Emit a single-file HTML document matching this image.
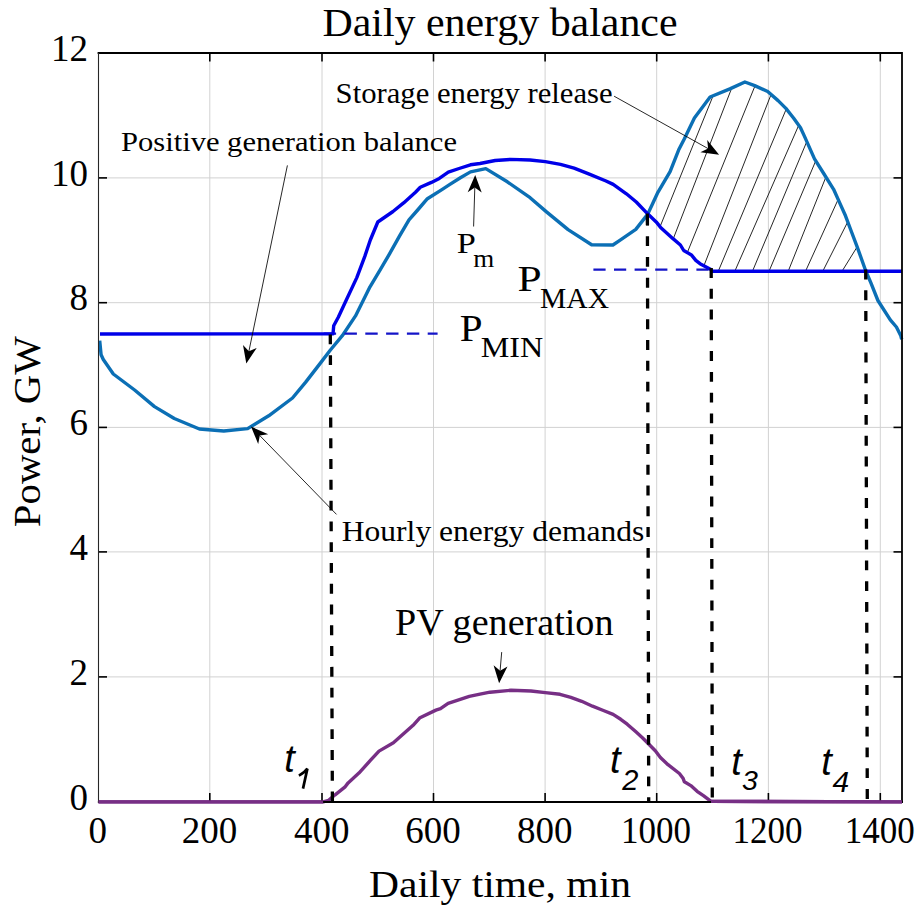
<!DOCTYPE html>
<html><head><meta charset="utf-8"><style>
html,body{margin:0;padding:0;background:#fff;}
svg{display:block;}
text{font-family:"Liberation Serif",serif;fill:#000;}
.sans{font-family:"Liberation Sans",sans-serif;font-style:italic;}
</style></head><body>
<svg width="922" height="908" viewBox="0 0 922 908">
<rect width="922" height="908" fill="#fff"/>
<g stroke="#d2d2d2" stroke-width="1"><line x1="209.8" y1="53.0" x2="209.8" y2="801.5"/><line x1="322.0" y1="53.0" x2="322.0" y2="801.5"/><line x1="433.5" y1="53.0" x2="433.5" y2="801.5"/><line x1="545.1" y1="53.0" x2="545.1" y2="801.5"/><line x1="656.7" y1="53.0" x2="656.7" y2="801.5"/><line x1="768.4" y1="53.0" x2="768.4" y2="801.5"/><line x1="880.3" y1="53.0" x2="880.3" y2="801.5"/><line x1="98.5" y1="177.9" x2="902.0" y2="177.9"/><line x1="98.5" y1="302.7" x2="902.0" y2="302.7"/><line x1="98.5" y1="427.4" x2="902.0" y2="427.4"/><line x1="98.5" y1="551.9" x2="902.0" y2="551.9"/><line x1="98.5" y1="676.9" x2="902.0" y2="676.9"/></g>
<defs><clipPath id="hc"><polygon points="647.4,214.1 647.6,214.4 652.7,203.5 657.9,192.3 670.1,171.6 678.6,150.1 684.4,138.7 694.4,117.9 710.1,97.0 729.9,88.9 744.9,82.0 754.7,85.6 767.7,91.5 778.1,100.6 785.9,108.4 793.7,118.2 800.5,127.8 804.5,136.4 814.5,158.9 823.7,173.5 833.6,189.3 839.6,202.6 845.5,215.8 850.8,230.0 856.8,245.8 865.6,270.5 865.6,271.2 712.0,271.2 710.9,269.5 700.0,263.7 695.8,260.4 691.4,254.9 683.7,250.5 680.4,245.0 672.7,238.4 660.6,227.4 656.2,221.9 647.4,213.6"/></clipPath></defs>
<g clip-path="url(#hc)" stroke="#000" stroke-width="1" opacity="0.85"><line x1="727.6" y1="60" x2="634.4" y2="290"/><line x1="742.6" y1="60" x2="653.4" y2="290"/><line x1="765.5" y1="60" x2="672.1" y2="290"/><line x1="784.6" y1="60" x2="694.4" y2="290"/><line x1="806.8" y1="60" x2="710.4" y2="290"/><line x1="827.3" y1="60" x2="726.6" y2="290"/><line x1="841.0" y1="60" x2="744.6" y2="290"/><line x1="858.4" y1="60" x2="761.1" y2="290"/><line x1="872.7" y1="60" x2="780.7" y2="290"/><line x1="901.5" y1="60" x2="797.0" y2="290"/><line x1="929.5" y1="60" x2="813.3" y2="290"/><line x1="973.0" y1="60" x2="830.4" y2="290"/></g>
<polyline points="99.7,340.7 101.1,354.8 103.3,359.5 113.3,374.0 134.6,390.0 154.5,406.6 174.3,418.5 199.4,429.0 223.8,431.0 247.6,428.6 268.7,415.8 292.5,398.0 305.7,382.1 320.0,363.6 330.4,350.0 342.3,335.7 355.5,315.9 370.0,286.8 380.0,270.2 389.1,254.6 399.6,235.9 409.0,219.8 418.1,209.5 427.4,198.7 441.9,189.6 449.9,184.4 460.4,177.8 470.5,171.9 485.8,168.6 507.3,181.8 530.1,197.7 546.8,212.1 568.1,229.6 591.6,244.8 612.9,245.0 619.8,240.4 635.8,229.4 647.6,214.4 652.7,203.5 657.9,192.3 670.1,171.6 678.6,150.1 684.4,138.7 694.4,117.9 710.1,97.0 729.9,88.9 744.9,82.0 754.7,85.6 767.7,91.5 778.1,100.6 785.9,108.4 793.7,118.2 800.5,127.8 804.5,136.4 814.5,158.9 823.7,173.5 833.6,189.3 839.6,202.6 845.5,215.8 850.8,230.0 856.8,245.8 865.6,270.5 870.9,282.9 877.9,300.5 890.3,319.9 896.4,327.0 900.8,335.8 901.7,339.3" fill="none" stroke="#0b6fb5" stroke-width="3.4" stroke-linejoin="round"/>
<polyline points="98.5,801.9 323.1,801.9 328.6,800.3 335.1,794.8 344.8,787.2 348.1,782.9 358.9,773.1 370.6,760.2 379.0,751.1 393.4,742.8 413.1,725.3 420.0,717.7 435.9,710.1 440.5,708.6 448.1,703.3 469.3,696.4 480.0,694.2 490.0,692.2 511.0,690.3 531.0,691.0 545.3,692.6 560.0,694.3 570.8,697.4 581.7,701.3 592.5,706.2 603.4,710.5 613.1,714.4 620.7,719.3 627.2,724.2 635.9,731.8 642.4,737.7 648.9,744.2 655.3,750.8 660.4,757.5 668.0,764.7 679.4,773.5 683.2,778.6 684.4,781.8 690.8,785.6 697.1,791.3 703.4,795.7 711.0,801.4 902.0,801.9" fill="none" stroke="#772f85" stroke-width="3.4" stroke-linejoin="round"/>
<line x1="323.7" y1="333.7" x2="437.6" y2="333.7" stroke="#1414c8" stroke-width="2.2" stroke-dasharray="12.4 8.4"/>
<line x1="593.4" y1="269.7" x2="711" y2="269.7" stroke="#1414c8" stroke-width="2.2" stroke-dasharray="12.2 8.4"/>
<polyline points="100.0,334.0 333.0,333.8 333.7,325.8 338.3,317.2 346.3,300.0 356.8,277.6 364.8,256.4 370.3,240.0 377.8,222.0 393.0,211.5 403.6,202.9 415.5,192.3 420.3,187.3 431.4,182.4 439.3,178.4 448.3,172.2 459.1,168.5 470.5,164.8 480.0,163.5 495.2,160.5 510.4,159.4 530.1,160.0 545.3,161.6 560.5,164.3 574.1,168.1 589.3,174.2 606.0,181.0 613.2,184.4 626.4,193.8 636.3,202.0 647.4,213.6 656.2,221.9 660.6,227.4 672.7,238.4 680.4,245.0 683.7,250.5 691.4,254.9 695.8,260.4 700.0,263.7 710.9,269.5 712.0,271.2 902.0,271.2" fill="none" stroke="#0000e8" stroke-width="3.4" stroke-linejoin="round"/>
<line x1="330.3" y1="334.4" x2="332.4" y2="801.5" stroke="#000" stroke-width="3.3" stroke-dasharray="9.9 10.88"/>
<line x1="647.4" y1="215.4" x2="648.7" y2="801.5" stroke="#000" stroke-width="3.3" stroke-dasharray="9.9 10.88"/>
<line x1="711.2" y1="268.0" x2="712.3" y2="801.5" stroke="#000" stroke-width="3.3" stroke-dasharray="9.9 10.88"/>
<line x1="865.7" y1="269.5" x2="867.3" y2="801.5" stroke="#000" stroke-width="3.3" stroke-dasharray="9.9 10.88"/>
<line x1="647.4" y1="213.6" x2="647.5" y2="225.5" stroke="#000" stroke-width="3"/>
<g stroke="#000" stroke-width="1.6"><line x1="209.8" y1="801.5" x2="209.8" y2="793.0"/><line x1="209.8" y1="53.0" x2="209.8" y2="61.5"/><line x1="322.0" y1="801.5" x2="322.0" y2="793.0"/><line x1="322.0" y1="53.0" x2="322.0" y2="61.5"/><line x1="433.5" y1="801.5" x2="433.5" y2="793.0"/><line x1="433.5" y1="53.0" x2="433.5" y2="61.5"/><line x1="545.1" y1="801.5" x2="545.1" y2="793.0"/><line x1="545.1" y1="53.0" x2="545.1" y2="61.5"/><line x1="656.7" y1="801.5" x2="656.7" y2="793.0"/><line x1="656.7" y1="53.0" x2="656.7" y2="61.5"/><line x1="768.4" y1="801.5" x2="768.4" y2="793.0"/><line x1="768.4" y1="53.0" x2="768.4" y2="61.5"/><line x1="880.3" y1="801.5" x2="880.3" y2="793.0"/><line x1="880.3" y1="53.0" x2="880.3" y2="61.5"/><line x1="98.5" y1="177.9" x2="107.0" y2="177.9"/><line x1="902.0" y1="177.9" x2="893.5" y2="177.9"/><line x1="98.5" y1="302.7" x2="107.0" y2="302.7"/><line x1="902.0" y1="302.7" x2="893.5" y2="302.7"/><line x1="98.5" y1="427.4" x2="107.0" y2="427.4"/><line x1="902.0" y1="427.4" x2="893.5" y2="427.4"/><line x1="98.5" y1="551.9" x2="107.0" y2="551.9"/><line x1="902.0" y1="551.9" x2="893.5" y2="551.9"/><line x1="98.5" y1="676.9" x2="107.0" y2="676.9"/><line x1="902.0" y1="676.9" x2="893.5" y2="676.9"/></g>
<path d="M97.6,53 H902 V802.9" fill="none" stroke="#000" stroke-width="1.8"/>
<path d="M903,802 H97.9" fill="none" stroke="#000" stroke-width="1.8"/>
<path d="M98.5,53 V802.9" fill="none" stroke="#262626" stroke-width="1.1"/>
<polyline points="98.5,801.9 323.1,801.9" fill="none" stroke="#772f85" stroke-width="3.4"/>
<polyline points="711.0,801.4 902.0,801.9" fill="none" stroke="#772f85" stroke-width="3.4"/>
<text x="97.8" y="843.4" font-size="37" text-anchor="middle" fill="#262626">0</text><text x="209.4" y="843.4" font-size="37" text-anchor="middle" fill="#262626">200</text><text x="321.8" y="843.4" font-size="37" text-anchor="middle" fill="#262626">400</text><text x="433.0" y="843.4" font-size="37" text-anchor="middle" fill="#262626">600</text><text x="544.8" y="843.4" font-size="37" text-anchor="middle" fill="#262626">800</text><text x="655.9" y="843.4" font-size="37" text-anchor="middle" fill="#262626" textLength="70" lengthAdjust="spacingAndGlyphs">1000</text><text x="767.5" y="843.4" font-size="37" text-anchor="middle" fill="#262626" textLength="70" lengthAdjust="spacingAndGlyphs">1200</text><text x="879.7" y="843.4" font-size="37" text-anchor="middle" fill="#262626" textLength="70" lengthAdjust="spacingAndGlyphs">1400</text><text x="88" y="809.6" font-size="37" text-anchor="end" fill="#262626">0</text><text x="88" y="684.5" font-size="37" text-anchor="end" fill="#262626">2</text><text x="88" y="559.5" font-size="37" text-anchor="end" fill="#262626">4</text><text x="88" y="435.0" font-size="37" text-anchor="end" fill="#262626">6</text><text x="88" y="310.3" font-size="37" text-anchor="end" fill="#262626">8</text><text x="88" y="185.5" font-size="37" text-anchor="end" fill="#262626">10</text><text x="88" y="60.6" font-size="37" text-anchor="end" fill="#262626">12</text>
<text x="500" y="36.4" font-size="40.5" text-anchor="middle" textLength="355" lengthAdjust="spacingAndGlyphs">Daily energy balance</text>
<text x="500" y="897.2" font-size="37" text-anchor="middle" fill="#262626" textLength="262" lengthAdjust="spacingAndGlyphs">Daily time, min</text>
<text transform="translate(39.9,431.7) rotate(-90)" x="0" y="0" font-size="37" text-anchor="middle" fill="#262626" textLength="191" lengthAdjust="spacingAndGlyphs">Power, GW</text>
<text x="121" y="151.2" font-size="26.6" textLength="336" lengthAdjust="spacingAndGlyphs">Positive generation balance</text>
<text x="335.6" y="102.5" font-size="28.5" textLength="277" lengthAdjust="spacingAndGlyphs">Storage energy release</text>
<text x="341.8" y="541.2" font-size="29" textLength="302.5" lengthAdjust="spacingAndGlyphs">Hourly energy demands</text>
<text x="395" y="635.1" font-size="37" textLength="218.5" lengthAdjust="spacingAndGlyphs">PV generation</text>
<text x="456.8" y="253.4" font-size="29.5" textLength="19.1" lengthAdjust="spacingAndGlyphs">P</text><text x="473.3" y="266.9" font-size="25.5" textLength="21" lengthAdjust="spacingAndGlyphs">m</text>
<text x="517.6" y="291.0" font-size="35.5" textLength="24.1" lengthAdjust="spacingAndGlyphs">P</text><text x="540" y="307.9" font-size="29.5" textLength="69" lengthAdjust="spacingAndGlyphs">MAX</text>
<text x="459.8" y="341.0" font-size="37" textLength="22.8" lengthAdjust="spacingAndGlyphs">P</text><text x="480.8" y="356.9" font-size="28.6" textLength="62.5" lengthAdjust="spacingAndGlyphs">MIN</text>
<text class="sans" x="284.2" y="772.1" font-size="38">t</text>
<text class="sans" x="610.1" y="773.3" font-size="38">t</text>
<text class="sans" x="731.3" y="775.2" font-size="38">t</text>
<text class="sans" x="821.3" y="775.2" font-size="38">t</text>
<path d="M298.9,775.6 C302.5,773.8 305.5,771.5 307.4,768.6 L303.0,788.6" fill="none" stroke="#000" stroke-width="2.7" stroke-linejoin="miter"/>
<text class="sans" x="622.3" y="790.0" font-size="29">2</text>
<text class="sans" x="742.0" y="790.3" font-size="28.5">3</text>
<text class="sans" x="832.4" y="791.8" font-size="30">4</text>
<line x1="287.4" y1="165.4" x2="248.9" y2="351.3" stroke="#000" stroke-width="0.85"/><polygon points="246.3,363.6 243.0,345.0 248.9,351.3 256.7,347.9" fill="#000"/>
<line x1="336.5" y1="514.4" x2="259.8" y2="435.6" stroke="#000" stroke-width="0.85"/><polygon points="251.0,426.6 268.2,434.3 259.8,435.6 258.2,444.0" fill="#000"/>
<line x1="473.6" y1="226.5" x2="474.8" y2="187.5" stroke="#000" stroke-width="0.85"/><polygon points="475.2,174.9 481.7,192.6 474.8,187.5 467.7,192.2" fill="#000"/>
<line x1="501.7" y1="652.1" x2="500.1" y2="670.7" stroke="#000" stroke-width="0.85"/><polygon points="499.1,683.3 493.6,665.3 500.1,670.7 507.5,666.4" fill="#000"/>
<line x1="614.1" y1="96.2" x2="708.1" y2="148.6" stroke="#000" stroke-width="0.85"/><polygon points="719.1,154.7 700.4,152.3 708.1,148.6 707.2,140.1" fill="#000"/>
</svg></body></html>
